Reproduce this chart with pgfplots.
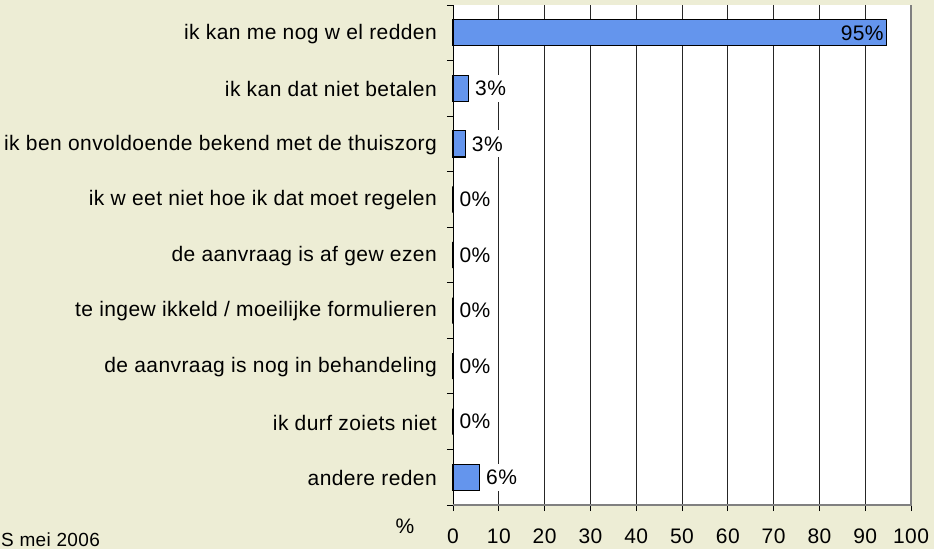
\documentclass[border=0pt]{standalone}
\usepackage{fontspec}
\setmainfont[LetterSpace=2]{Liberation Sans}
\usepackage{pgfplots}
\pgfplotsset{compat=1.18}
\definecolor{bg}{HTML}{EDEDD5}
\definecolor{barblue}{HTML}{6495ED}
\begin{document}
\begin{tikzpicture}[x=1pt,y=1pt]
\fill[bg] (0,0) rectangle (934,549);
\useasboundingbox (0,0) rectangle (934,549);
\begin{axis}[
  at={(453pt,44pt)}, anchor=south west,
  width=458pt, height=500pt, scale only axis,
  font=\fontsize{21}{25}\selectfont,
  axis background/.style={fill=white},
  xmin=0, xmax=100, ymin=0.5, ymax=9.5, y dir=reverse,
  axis lines*=left,
  axis line style={black, line width=0.9pt},
  xtick={0,10,...,100},
  xmajorgrids, major grid style={black!85, line width=0.8pt},
  tick align=outside,
  major tick length=6pt, minor tick length=6pt,
  tick style={black, line width=0.9pt},
  xticklabel style={anchor=center, yshift=-25pt},
  /pgf/number format/assume math mode=true,
  ytick={1,...,9},
  minor ytick={0.5,1.5,...,9.5},
  major y tick style={draw=none},
  yticklabels={ik kan me nog w el redden, ik kan dat niet betalen\ , ik ben onvoldoende bekend met de thuiszorg, ik w eet niet hoe ik dat moet regelen, de aanvraag is af gew ezen, te ingew ikkeld / moeilijke formulieren, de aanvraag is nog in behandeling, ik durf zoiets niet, andere reden},
  yticklabel style={anchor=east, inner sep=0pt, xshift=-10pt, yshift=-1pt},
  xbar, bar width=0.47, bar shift=0pt,
  point meta=explicit symbolic,
  nodes near coords,
  clip=false,
]
\addplot[fill=barblue, draw=black, line width=1.2pt,
  nodes near coords style={anchor=west, fill=white, inner xsep=3pt, inner ysep=6pt, xshift=3pt, text=black}]
  coordinates {(3.4,2) [3\%] (2.7,3) [3\%] (0,4) [0\%] (0,5) [0\%] (0,6) [0\%] (0,7) [0\%] (0,8) [0\%] (5.8,9) [6\%]};
\addplot[fill=barblue, draw=black, line width=1.2pt,
  nodes near coords style={anchor=east, inner sep=1pt, xshift=-1pt, text=black}]
  coordinates {(94.6,1) [95\%]};
\draw[gray, line width=1.2pt] (rel axis cs:0,0) -- (rel axis cs:1,0) -- (rel axis cs:1,1);
\end{axis}
\node[anchor=center, font=\fontsize{21}{25}\selectfont] at (405,23) {\%};
\node[anchor=west, inner sep=0pt, font=\fontsize{19}{23}\selectfont] at (1,9) {S mei 2006};
\end{tikzpicture}
\end{document}
